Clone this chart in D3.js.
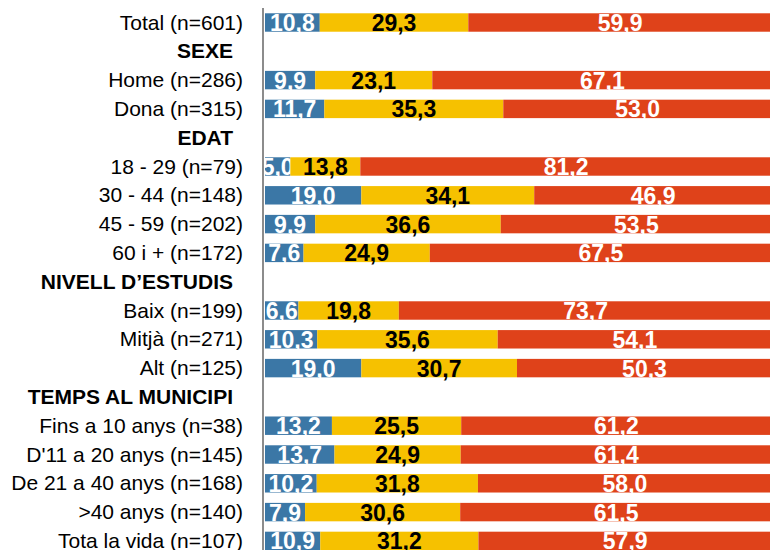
<!DOCTYPE html>
<html>
<head>
<meta charset="utf-8">
<script src="https://cdn.jsdelivr.net/npm/d3@7"></script>
<style>
  body { margin: 0; background: #fff; }
  svg { display: block; font-family: 'Liberation Sans', Arial, sans-serif; }
</style>
</head>
<body>
<div id="app"></div>
<script>
'use strict'

// Rows, top to bottom. Section headers have no values.
const categories = [
  'Total (n=601)', 'SEXE', 'Home (n=286)', 'Dona (n=315)',
  'EDAT', '18 - 29 (n=79)', '30 - 44 (n=148)', '45 - 59 (n=202)', '60 i + (n=172)',
  'NIVELL D’ESTUDIS', 'Baix (n=199)', 'Mitjà (n=271)', 'Alt (n=125)',
  'TEMPS AL MUNICIPI', 'Fins a 10 anys (n=38)', "D'11 a 20 anys (n=145)",
  'De 21 a 40 anys (n=168)', '>40 anys (n=140)', 'Tota la vida (n=107)'
]
const headers = ['SEXE', 'EDAT', 'NIVELL D’ESTUDIS', 'TEMPS AL MUNICIPI']

const seriesA = [10.8, null, 9.9, 11.7, null, 5.0, 19.0, 9.9, 7.6, null, 6.6, 10.3, 19.0, null, 13.2, 13.7, 10.2, 7.9, 10.9]
const seriesB = [29.3, null, 23.1, 35.3, null, 13.8, 34.1, 36.6, 24.9, null, 19.8, 35.6, 30.7, null, 25.5, 24.9, 31.8, 30.6, 31.2]
const seriesC = [59.9, null, 67.1, 53.0, null, 81.2, 46.9, 53.5, 67.5, null, 73.7, 54.1, 50.3, null, 61.2, 61.4, 58.0, 61.5, 57.9]

const keys = ['a', 'b', 'c']
const colors = { a: '#3b77a6', b: '#f6c100', c: '#df421a' }
const textColors = { a: '#fff', b: '#000', c: '#fff' }

const setWidth = 770
const setHeight = 550
const axisX = 263
const barStart = 265

const table = categories.map((name, i) => ({
  name,
  a: seriesA[i] || 0,
  b: seriesB[i] || 0,
  c: seriesC[i] || 0,
  header: seriesA[i] == null
}))

const stacked = d3.stack().keys(keys)(table)

const svg = d3.select('#app')
  .append('svg')
  .attr('width', setWidth)
  .attr('height', setHeight)

svg.append('defs')
  .append('clipPath')
  .attr('id', 'plot-clip')
  .append('rect')
  .attr('x', barStart)
  .attr('y', 0)
  .attr('width', setWidth - barStart)
  .attr('height', setHeight)

const scaleX = d3.scaleLinear()
  .domain([0, 100])
  .range([barStart, 772])

const scaleY = d3.scaleBand()
  .domain(categories)
  .range([8.1, 8.1 + 19 * 28.8])
  .paddingInner(0.36)
  .paddingOuter(0.18)

const fmt = v => d3.format('.1f')(v).replace('.', ',')

const plot = svg.append('g')
  .attr('clip-path', 'url(#plot-clip)')

const layers = plot.selectAll('g.layer')
  .data(stacked)
  .enter()
  .append('g')
  .classed('layer', true)

layers.selectAll('rect')
  .data(s => s.filter(d => !d.data.header).map(d => ({ d, key: s.key })))
  .enter()
  .append('rect')
  .attr('x', o => scaleX(o.d[0]))
  .attr('width', o => scaleX(o.d[1]) - scaleX(o.d[0]))
  .attr('y', o => scaleY(o.d.data.name))
  .attr('height', scaleY.bandwidth())
  .attr('fill', o => colors[o.key])

layers.selectAll('text')
  .data(s => s.filter(d => !d.data.header).map(d => ({ d, key: s.key })))
  .enter()
  .append('text')
  .attr('x', o => (scaleX(o.d[0]) + scaleX(o.d[1])) / 2)
  .attr('y', o => scaleY(o.d.data.name) + scaleY.bandwidth() / 2 + 8.5)
  .attr('text-anchor', 'middle')
  .attr('font-size', 23)
  .attr('font-weight', 'bold')
  .attr('fill', o => textColors[o.key])
  .text(o => fmt(o.d.data[o.key]))

// category axis
const axis = svg.append('g')
  .attr('transform', `translate(${axisX},0)`)
  .call(d3.axisLeft(scaleY).tickSize(0).tickSizeOuter(0).tickPadding(20))

axis.select('.domain')
  .attr('d', `M0,8V${setHeight}`)
  .attr('stroke', '#8c8c8c')
  .attr('stroke-width', 2)

axis.selectAll('.tick text')
  .attr('font-size', 21)
  .attr('font-family', "'Liberation Sans', Arial, sans-serif")
  .attr('fill', '#000')
  .attr('dy', '0.34em')
  .attr('font-weight', d => headers.includes(d) ? 'bold' : 'normal')
  .attr('dx', d => headers.includes(d) ? -10 : 0)
</script>
</body>
</html>
